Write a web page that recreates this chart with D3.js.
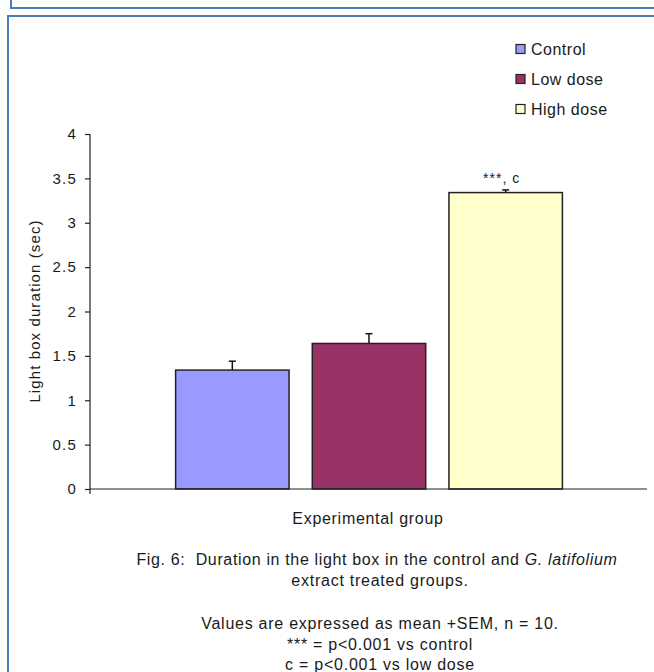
<!DOCTYPE html>
<html>
<head>
<meta charset="utf-8">
<script src="https://cdn.jsdelivr.net/npm/d3@7"></script>
<style>
  html, body { margin: 0; padding: 0; background: #fff; }
  svg { display: block; }
  text { font-family: "Liberation Sans", Arial, sans-serif; fill: #1a1a1a; }
</style>
</head>
<body>
<svg id="chart" width="654" height="672"></svg>
<script>
// Light box duration per treatment group (mean + SEM, n = 10)
const groups = ["Control", "Low dose", "High dose"];
const means = [1.34, 1.64, 3.34];
const sems = [0.10, 0.11, 0.03];
const marks = ["", "", "***, c"];
const yTicks = [0, 0.5, 1, 1.5, 2, 2.5, 3, 3.5, 4];
const yTickLabels = ["0", "0.5", "1", "1.5", "2", "2.5", "3", "3.5", "4"];
const xTitle = "Experimental group";
const yTitle = "Light box duration (sec)";

const fills = ["#9999ff", "#993366", "#ffffcc"];

const svg = d3.select("#chart");

// page frames
const frameColor = "#4a7ebb";
svg.append("path")
  .attr("d", "M11,0 V8 H660")
  .attr("fill", "none").attr("stroke", frameColor).attr("stroke-width", 2);
svg.append("path")
  .attr("d", "M8,680 V16 H660")
  .attr("fill", "none").attr("stroke", frameColor).attr("stroke-width", 2);

const plot = { left: 90, right: 647, top: 134, bottom: 489 };

const y = d3.scaleLinear().domain([0, 4]).range([plot.bottom, plot.top]);
const x = d3.scaleBand()
  .domain(groups)
  .range([164, 574])
  .paddingInner(0.17)
  .paddingOuter(0.085);

// y axis
const yAxis = d3.axisLeft(y)
  .tickValues(yTicks)
  .tickFormat((d, i) => yTickLabels[i])
  .tickSize(5)
  .tickSizeOuter(0)
  .tickPadding(8);
const gy = svg.append("g")
  .attr("transform", `translate(${plot.left},0)`)
  .call(yAxis);
gy.select(".domain").remove();
gy.selectAll(".tick line").attr("stroke", "#222").attr("stroke-width", 1.2);
gy.selectAll(".tick text")
  .style("font-size", "15px")
  .style("letter-spacing", "1.2px")
  .attr("fill", "#1a1a1a");
svg.append("line")
  .attr("x1", plot.left).attr("x2", plot.left)
  .attr("y1", plot.top).attr("y2", plot.bottom + 5)
  .attr("stroke", "#222").attr("stroke-width", 1.2);

// bars
svg.append("g").selectAll("rect")
  .data(groups)
  .join("rect")
  .attr("x", d => x(d))
  .attr("width", x.bandwidth())
  .attr("y", (d, i) => y(means[i]))
  .attr("height", (d, i) => y(0) - y(means[i]))
  .attr("fill", (d, i) => fills[i])
  .attr("stroke", "#222")
  .attr("stroke-width", 1.5);

// x axis baseline
svg.append("line")
  .attr("x1", plot.left).attr("x2", plot.right)
  .attr("y1", plot.bottom).attr("y2", plot.bottom)
  .attr("stroke", "#222").attr("stroke-width", 1.2);

// error bars (+SEM)
const err = svg.append("g").attr("stroke", "#111").attr("stroke-width", 1.5);
groups.forEach((g, i) => {
  const cx = x(g) + x.bandwidth() / 2;
  const top = y(means[i] + sems[i]);
  err.append("line")
    .attr("x1", cx).attr("x2", cx)
    .attr("y1", y(means[i])).attr("y2", top);
  err.append("line")
    .attr("x1", cx - 3.5).attr("x2", cx + 3.5)
    .attr("y1", top).attr("y2", top);
});

// significance marks
svg.append("g").selectAll("text")
  .data(groups)
  .join("text")
  .attr("x", d => x(d) + x.bandwidth() / 2 - 4)
  .attr("y", (d, i) => y(means[i] + sems[i]) - 7)
  .attr("text-anchor", "middle")
  .style("font-size", "14px")
  .style("letter-spacing", "1px")
  .text((d, i) => marks[i]);

// legend
const legend = svg.append("g");
groups.forEach((g, i) => {
  const ly = 49 + i * 30;
  legend.append("rect")
    .attr("x", 516).attr("y", ly - 4.5)
    .attr("width", 9).attr("height", 9)
    .attr("fill", fills[i])
    .attr("stroke", "#222").attr("stroke-width", 1.2);
  legend.append("text")
    .attr("x", 531).attr("y", ly + 6)
    .style("font-size", "16px")
    .style("letter-spacing", "0.5px")
    .text(g);
});

// axis titles
svg.append("text")
  .attr("x", 368).attr("y", 524)
  .attr("text-anchor", "middle")
  .style("font-size", "16px")
  .style("letter-spacing", "0.7px")
  .text(xTitle);

svg.append("text")
  .attr("transform", "translate(40,311) rotate(-90)")
  .attr("text-anchor", "middle")
  .style("font-size", "15px")
  .style("letter-spacing", "1.1px")
  .text(yTitle);

// caption
const cap = svg.append("g")
  .style("font-size", "16px")
  .style("letter-spacing", "0.75px");
const line1 = cap.append("text")
  .attr("x", 377).attr("y", 565)
  .attr("text-anchor", "middle")
  .style("letter-spacing", "0.65px");
line1.attr("xml:space", "preserve");
line1.append("tspan").text("Fig. 6:  Duration in the light box in the control and ");
line1.append("tspan").style("font-style", "italic").text("G. latifolium");

const captionLines = [
  { text: "extract treated groups.", y: 586 },
  { text: "Values are expressed as mean +SEM, n = 10.", y: 629 },
  { text: "*** = p<0.001 vs control", y: 650 },
  { text: "c = p<0.001 vs low dose", y: 670 }
];
cap.selectAll("text.line")
  .data(captionLines)
  .join("text")
  .attr("class", "line")
  .attr("x", 380)
  .attr("y", d => d.y)
  .attr("text-anchor", "middle")
  .text(d => d.text);
</script>
</body>
</html>
